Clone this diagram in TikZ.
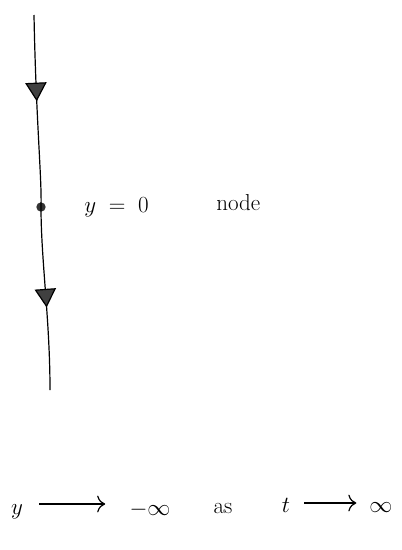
\documentclass[tikz,border=0pt]{standalone}
\usetikzlibrary{arrows.meta,decorations.markings}
\begin{document}
\begin{tikzpicture}[x=0.75pt,y=-0.75pt,
  phase/.style={line width=0.9pt,
    postaction={decorate,decoration={markings,
      mark=at position 0.23 with {\arrow{Triangle[angle=60:16pt,length=14pt,fill=black!75]}},
      mark=at position 0.78 with {\arrow{Triangle[angle=60:16pt,length=14pt,fill=black!75]}}}}},
  lbl/.style={font=\LARGE, inner sep=0pt},
  dotnode/.style={circle,fill=black!80,inner sep=0pt,minimum size=7pt}]
\useasboundingbox (0,0) rectangle (401,550);
\coordinate (top) at (34,15);
\coordinate (bot) at (50,390);
\node[dotnode] (eq) at (41,207) {};
\draw[phase] (top) .. controls (36,120) and (42,180) .. (eq.center) .. controls (41,260) and (50,320) .. (bot);
\node[lbl, anchor=west] (yz) at (84,207) {$y\;=\;0$};
\node[lbl, anchor=west] (nd) at (216,203) {node};
\node[lbl] (y) at (17,512) {$y$};
\node[lbl] (minf) at (150,510) {$-\infty$};
\node[lbl] (as) at (223,508) {as};
\node[lbl] (t) at (286,505) {$t$};
\node[lbl] (inf) at (381,508) {$\infty$};
\draw[-{To[length=6pt]}, line width=0.9pt] (y.east) ++(16,-8) coordinate (a1) -- ++(66,0) coordinate (a1e);
\draw[-{To[length=6pt]}, line width=0.9pt] (t.east) ++(14,-2) coordinate (a2) -- ++(52,0) coordinate (a2e);
\end{tikzpicture}
\end{document}
